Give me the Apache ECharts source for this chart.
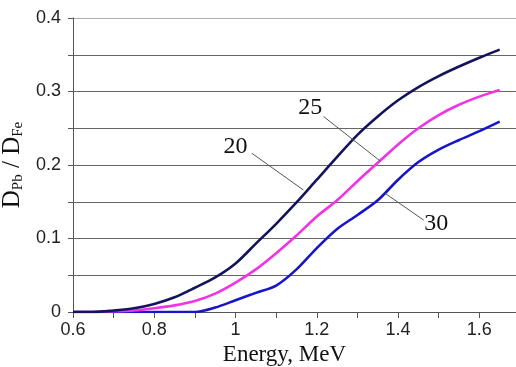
<!DOCTYPE html>
<html>
<head>
<meta charset="utf-8">
<script src="https://cdn.jsdelivr.net/npm/echarts@6/dist/echarts.min.js"></script>
<style>
  html, body { margin: 0; padding: 0; background: #fff; }
  #main { width: 516px; height: 367px; }
</style>
</head>
<body>
<div id="main"></div>
<script>
var myChart = echarts.init(document.getElementById('main'));

// energy, MeV
var energy = [0.6, 0.65, 0.7, 0.75, 0.8, 0.85, 0.9, 0.95, 1.0, 1.05, 1.1,
              1.15, 1.2, 1.25, 1.3, 1.35, 1.4, 1.45, 1.5, 1.55, 1.6, 1.65];
// D_Pb / D_Fe for thickness 20, 25, 30
var d20 = [0, 0, 0.002, 0.005, 0.011, 0.02, 0.033, 0.047, 0.066, 0.093, 0.12,
           0.149, 0.18, 0.211, 0.241, 0.266, 0.288, 0.306, 0.321, 0.334, 0.346, 0.357];
var d25 = [0, 0, 0.001, 0.002, 0.005, 0.009, 0.015, 0.025, 0.04, 0.058, 0.08,
           0.104, 0.13, 0.152, 0.178, 0.203, 0.228, 0.25, 0.268, 0.282, 0.293, 0.302];
var d30 = [0, 0, 0, 0, 0, 0, 0, 0.006, 0.016, 0.026, 0.036,
           0.058, 0.087, 0.113, 0.132, 0.152, 0.18, 0.204, 0.221, 0.234, 0.246, 0.259];

var names = ['20', '25', '30'];
var colors = ['#14145c', '#f034e4', '#1616c8'];
// label position and leader line [from, to] in data coords
var labelPos = [[1.0, 0.2245], [1.184, 0.2785], [1.494, 0.120]];
var leaders = [
    [[1.040, 0.216], [1.167, 0.166]],
    [[1.2165, 0.266], [1.356, 0.2054]],
    [[1.368, 0.1615], [1.463, 0.125]]
];

function pairs(ys) {
    return energy.map(function (x, i) { return [x, ys[i]]; });
}

var allData = [d20, d25, d30];
var series = allData.map(function (ys, i) {
    return {
        name: names[i],
        type: 'line',
        data: pairs(ys),
        smooth: 0.3,
        showSymbol: false,
        lineStyle: { color: colors[i], width: 2.6 },
        z: 3 - i,
        markLine: {
            silent: true,
            symbol: 'none',
            animation: false,
            label: { show: false },
            lineStyle: { color: '#555', width: 1, type: 'solid' },
            data: [[{ coord: leaders[i][0] }, { coord: leaders[i][1] }]]
        },
        markPoint: {
            silent: true,
            symbol: 'circle',
            symbolSize: 0,
            animation: false,
            label: {
                show: true,
                position: 'inside',
                formatter: names[i],
                color: '#111',
                fontFamily: 'Liberation Serif',
                fontSize: 24
            },
            data: [{ coord: labelPos[i] }]
        }
    };
});

var gridGray = ['#666', '#666', '#666', '#666', '#666', '#666', '#666', '#666', '#b0b0b0'];

option = {
    backgroundColor: '#fff',
    animation: false,
    grid: {
        left: 73,
        top: 18,
        right: -4,
        bottom: 55,
        outerBoundsMode: 'none'
    },
    xAxis: {
        type: 'value',
        min: 0.6,
        max: 1.7,
        interval: 0.1,
        name: 'Energy, MeV',
        nameLocation: 'middle',
        nameGap: 30,
        nameTextStyle: {
            fontFamily: 'Liberation Serif',
            fontSize: 23,
            color: '#111',
            padding: [0, 24, 0, 0]
        },
        axisLine: { lineStyle: { color: '#555', width: 1 } },
        axisTick: { inside: false, length: 6, lineStyle: { color: '#555' } },
        axisLabel: {
            margin: 9,
            fontFamily: 'Liberation Sans',
            fontSize: 18,
            color: '#222',
            formatter: function (v) {
                var t = Math.round(v * 10);
                return t % 2 === 0 ? String(t / 10) : '';
            }
        },
        splitLine: { show: false }
    },
    yAxis: {
        type: 'value',
        min: 0,
        max: 0.4,
        interval: 0.05,
        name: '{m|D}{s|Pb}{m| / D}{s|Fe}',
        nameLocation: 'middle',
        nameRotate: 90,
        nameGap: 47,
        nameTextStyle: {
            rich: {
                m: { fontFamily: 'Liberation Serif', fontSize: 25, color: '#111', lineHeight: 26 },
                s: { fontFamily: 'Liberation Serif', fontSize: 15, color: '#111', lineHeight: 8, verticalAlign: 'bottom' }
            }
        },
        axisLine: { show: true, lineStyle: { color: '#555', width: 1 } },
        axisTick: { show: true, inside: false, length: 5, lineStyle: { color: '#555' } },
        axisLabel: {
            margin: 12,
            fontFamily: 'Liberation Sans',
            fontSize: 18,
            color: '#222',
            formatter: function (v) {
                var t = Math.round(v * 100);
                return t % 10 === 0 ? String(t / 100) : '';
            }
        },
        splitLine: { show: true, lineStyle: { color: gridGray, width: 1 } }
    },
    series: series
};

myChart.setOption(option);
</script>
</body>
</html>
